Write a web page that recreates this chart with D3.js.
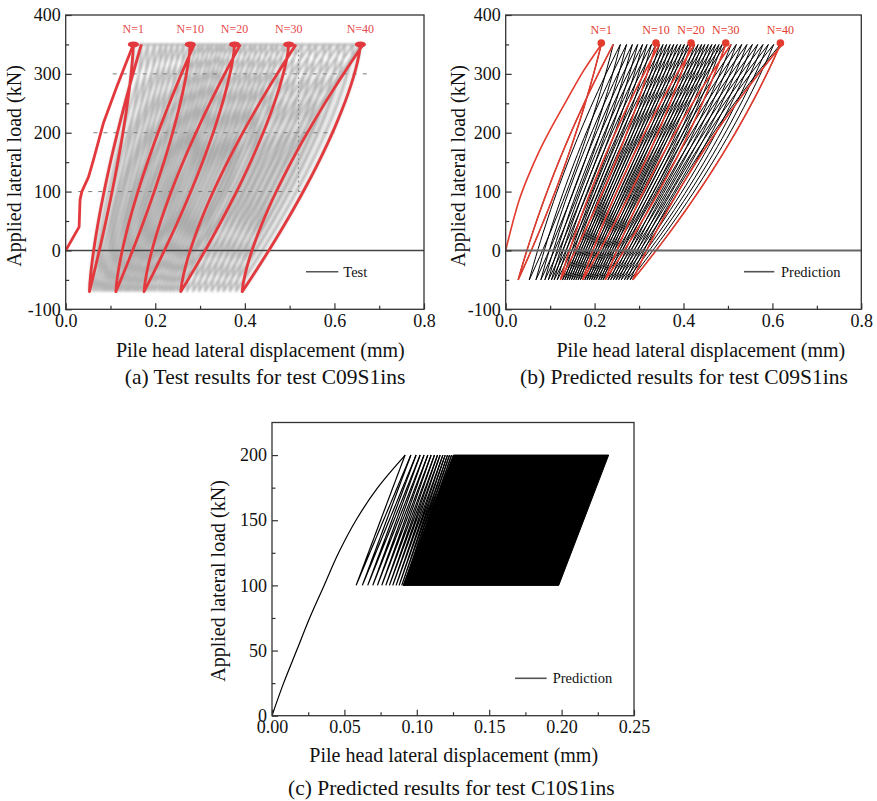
<!DOCTYPE html>
<html>
<head>
<meta charset="utf-8">
<script src="https://cdn.jsdelivr.net/npm/d3@7"></script>
<style>
  body { margin: 0; background: #fff; }
  svg { display: block; font-family: "Liberation Serif", "Times New Roman", serif; }
</style>
</head>
<body>
<svg id="fig" width="877" height="801"></svg>
<script>
// ---------------- data ----------------
// (a) measured load–displacement loops, test C09S1ins (load cycled between 350 and -70 kN)
const testLoadMax = 350, testLoadMin = -70;
const testInitial = [[0,0],[0.030,40],[0.032,86],[0.036,100],[0.051,125],[0.062,154],[0.084,216],[0.114,278],[0.151,350]];
const testPeaks = [0.151,0.169,0.184,0.199,0.213,0.225,0.238,0.251,0.264,0.278,0.287,0.298,0.307,0.318,0.327,0.338,0.347,0.356,0.367,0.377,
                   0.390,0.401,0.414,0.424,0.437,0.448,0.462,0.473,0.487,0.498,0.514,0.528,0.546,0.560,0.578,0.592,0.610,0.624,0.642,0.658,0.664];
const testValleys = [0.053,0.061,0.068,0.075,0.082,0.088,0.094,0.100,0.106,0.112,0.118,0.124,0.131,0.137,0.143,0.150,0.156,0.162,0.169,0.175,
                     0.183,0.191,0.199,0.208,0.216,0.224,0.232,0.240,0.249,0.257,0.270,0.284,0.297,0.311,0.325,0.339,0.352,0.366,0.380,0.394];
const testGridLoads = [100, 200, 300];
const testGridFrom = [0.028, 0.062, 0.105];
const testGridTo = [0.524, 0.600, 0.680];
const testGuideX = 0.52;
const testGuideLoads = [100, 340];

// (b) predicted loops, test C09S1ins (load cycled between 350 and -50 kN)
const predLoadMax = 350, predLoadMin = -50;
const predInitial = [[0,0],[0.015,45],[0.030,85],[0.050,125],[0.075,168],[0.100,205],[0.137,255],[0.175,305],[0.215,350]];
const predPeaks = [0.215,0.242,0.258,0.272,0.285,0.297,0.308,0.318,0.328,0.338,0.346,0.354,0.362,0.370,0.378,0.386,0.394,0.402,0.410,0.417,
                   0.425,0.433,0.441,0.448,0.456,0.464,0.472,0.480,0.487,0.495,0.507,0.519,0.531,0.543,0.555,0.567,0.579,0.591,0.603,0.618,0.622];
const predValleys = [0.028,0.053,0.068,0.079,0.088,0.096,0.103,0.109,0.116,0.123,0.128,0.133,0.138,0.143,0.148,0.153,0.158,0.163,0.168,0.173,
                     0.178,0.183,0.188,0.193,0.198,0.203,0.209,0.214,0.219,0.224,0.230,0.236,0.242,0.248,0.254,0.260,0.267,0.273,0.280,0.286];

// highlighted cycles in (a) and (b)
const markedCycles = [1, 10, 20, 30, 40];

// (c) predicted loops, test C10S1ins (load cycled between 200 and 100 kN)
const c10LoadMax = 200, c10LoadMin = 100;
const c10Initial = [[0,0],[0.008,25],[0.017,50],[0.026,75],[0.036,100],[0.046,125],[0.058,150],[0.073,175],[0.092,200]];
const c10Peaks = [0.0919,0.0959,0.0995,0.1023,0.1050,0.1076,0.1099,0.1122,0.1143,0.1161,0.1180,0.1196,0.1212,0.1226,0.1240,0.1253];
const c10Valleys = [0.0581,0.0624,0.0661,0.0696,0.0728,0.0758,0.0786,0.0811,0.0834,0.0857,0.0878,0.0896,0.0910,0.0923,0.0936];
// region covered by the hundreds of later, overlapping cycles
const c10DenseBand = [[0.0905,100],[0.1253,200],[0.2325,200],[0.198,100]];

// axis ticks
const abXMajor = [0, 0.2, 0.4, 0.6, 0.8], abXMinor = [0.1, 0.3, 0.5, 0.7];
const abYMajor = [-100, 0, 100, 200, 300, 400], abYMinor = [-50, 50, 150, 250, 350];
const cXMajor = [0, 0.05, 0.10, 0.15, 0.20, 0.25], cXMinor = [0.025, 0.075, 0.125, 0.175, 0.225];
const cYMajor = [0, 50, 100, 150, 200], cYMinor = [25, 75, 125, 175];

// text
const xTitle = "Pile head lateral displacement (mm)";
const yTitle = "Applied lateral load (kN)";
const captions = ["(a) Test results for test C09S1ins", "(b) Predicted results for test C09S1ins", "(c) Predicted results for test C10S1ins"];
const legendNames = ["Test", "Prediction", "Prediction"];

// ---------------- drawing ----------------
const svg = d3.select("#fig");
const defs = svg.append("defs");
defs.append("filter").attr("id", "soft").attr("x", "-5%").attr("y", "-5%").attr("width", "110%").attr("height", "110%")
  .append("feGaussianBlur").attr("stdDeviation", 0.55);
defs.append("filter").attr("id", "softer").attr("x", "-5%").attr("y", "-5%").attr("width", "110%").attr("height", "110%")
  .append("feGaussianBlur").attr("stdDeviation", 0.9);

const xa = d3.scaleLinear().domain([0, 0.8]).range([65.7, 424]);
const ya = d3.scaleLinear().domain([-100, 400]).range([309.3, 15]);
const xb = d3.scaleLinear().domain([0, 0.8]).range([505.7, 861.3]);
const yb = ya.copy();
const xc = d3.scaleLinear().domain([0, 0.25]).range([272, 634]);
const yc = d3.scaleLinear().domain([0, 225]).range([715.7, 422.5]);

// one branch of a loop between two turning points; shape(u) sets how the
// displacement follows the load along the branch
function branch(d0, p0, d1, p1, shape, n = 30) {
  return d3.range(n + 1).map(i => {
    const u = i / n;
    return [d0 + (d1 - d0) * shape(u), p0 + (p1 - p0) * u];
  });
}
// cycle k: unload from peak k to valley k, then reload to peak k+1
function cycle(peaks, valleys, k, pMax, pMin, shape) {
  return branch(peaks[k], pMax, valleys[k], pMin, shape)
    .concat(branch(valleys[k], pMin, peaks[k + 1], pMax, shape).slice(1));
}

function axes(x, y, xMaj, xMin, yMaj, yMin, xFmt) {
  const [x0, x1] = x.range(), [y0, y1] = y.range();
  const g = svg.append("g");
  const style = sel => {
    sel.attr("font-family", null).attr("font-size", null);
    sel.select(".domain").remove();
    sel.selectAll(".tick line").attr("stroke", "#333").attr("stroke-width", 1.2);
    sel.selectAll(".tick text").attr("fill", "#111").style("font-size", "18px");
  };
  g.append("g").attr("transform", `translate(0,${y0})`)
    .call(d3.axisBottom(x).tickValues(xMaj).tickFormat(xFmt).tickSize(-6).tickPadding(5)).call(style);
  g.append("g").attr("transform", `translate(0,${y0})`)
    .call(d3.axisBottom(x).tickValues(xMin).tickFormat("").tickSize(-3.5)).call(style);
  g.append("g").attr("transform", `translate(${x0},0)`)
    .call(d3.axisLeft(y).tickValues(yMaj).tickFormat(d => String(d)).tickSize(-6).tickPadding(5)).call(style);
  g.append("g").attr("transform", `translate(${x0},0)`)
    .call(d3.axisLeft(y).tickValues(yMin).tickFormat("").tickSize(-3.5)).call(style);
  g.append("rect").attr("x", x0).attr("y", y1).attr("width", x1 - x0).attr("height", y0 - y1)
    .attr("fill", "none").attr("stroke", "#333").attr("stroke-width", 1.3);
}

function titles(cxX, xBase, yCenter, yBase) {
  svg.append("text").attr("x", cxX).attr("y", xBase).attr("text-anchor", "middle")
    .style("font-size", "20px").attr("fill", "#111").text(xTitle);
  svg.append("text").attr("transform", `translate(${yBase},${yCenter}) rotate(-90)`).attr("text-anchor", "middle")
    .style("font-size", "20px").attr("fill", "#111").text(yTitle);
}
function caption(i, cx, base) {
  svg.append("text").attr("x", cx).attr("y", base).attr("text-anchor", "middle")
    .style("font-size", "21.5px").attr("fill", "#111").text(captions[i]);
}
function legend(i, lx0, lx1, ly, tx) {
  svg.append("line").attr("x1", lx0).attr("x2", lx1).attr("y1", ly).attr("y2", ly)
    .attr("stroke", "#555").attr("stroke-width", 1.6);
  svg.append("text").attr("x", tx).attr("y", ly + 5).style("font-size", "14.5px").attr("fill", "#111").text(legendNames[i]);
}
function clip(id, x, y) {
  defs.append("clipPath").attr("id", id).append("rect")
    .attr("x", x.range()[0]).attr("y", y.range()[1])
    .attr("width", x.range()[1] - x.range()[0]).attr("height", y.range()[0] - y.range()[1]);
}

// ---------- panel (a) ----------
{
  clip("clipA", xa, ya);
  const line = d3.line().x(d => xa(d[0])).y(d => ya(d[1]));
  const shape = u => Math.pow(u, 1.4);
  const g = svg.append("g").attr("clip-path", "url(#clipA)");
  const haze = g.append("g").attr("filter", "url(#softer)");
  const cycles = d3.range(testValleys.length);
  haze.append("g").selectAll("path").data(cycles).join("path")
    .attr("d", k => line(cycle(testPeaks, testValleys, k, testLoadMax, testLoadMin, shape)) + "Z")
    .attr("fill", "rgba(100,100,100,0.08)")
    .attr("stroke", "#b4b4b4").attr("stroke-width", 2);
  const soft = g.append("g").attr("filter", "url(#soft)");
  // grid of the original test plot
  soft.append("g").selectAll("line").data(testGridLoads).join("line")
    .attr("x1", (d, i) => xa(testGridFrom[i])).attr("x2", (d, i) => xa(testGridTo[i]))
    .attr("y1", d => ya(d)).attr("y2", d => ya(d))
    .attr("stroke", "#7a7a7a").attr("stroke-width", 1).attr("stroke-dasharray", "4,6");
  soft.append("line").attr("x1", xa(testGuideX)).attr("x2", xa(testGuideX))
    .attr("y1", ya(testGuideLoads[1])).attr("y2", ya(testGuideLoads[0]))
    .attr("stroke", "#7a7a7a").attr("stroke-width", 1).attr("stroke-dasharray", "1.5,3");
  // zero-load line
  g.append("line").attr("x1", xa(0)).attr("x2", xa(0.8)).attr("y1", ya(0)).attr("y2", ya(0))
    .attr("stroke", "#444").attr("stroke-width", 1.4);
  const red = g.append("g").attr("filter", "url(#soft)");
  red.append("path").attr("d", line(testInitial)).attr("fill", "none")
    .attr("stroke", "#e3393c").attr("stroke-width", 2.8).attr("stroke-linejoin", "round");
  red.selectAll("path.cyc").data(markedCycles).join("path").attr("class", "cyc")
    .attr("d", n => line(cycle(testPeaks, testValleys, n - 1, testLoadMax, testLoadMin, shape)))
    .attr("fill", "none").attr("stroke", "#e3393c").attr("stroke-width", 2.8).attr("stroke-linejoin", "round");
  red.selectAll("ellipse").data(markedCycles).join("ellipse")
    .attr("cx", n => xa(testPeaks[n - 1])).attr("cy", ya(testLoadMax))
    .attr("rx", 5.5).attr("ry", 3).attr("fill", "#e3393c");
  svg.append("g").selectAll("text").data(markedCycles).join("text")
    .attr("x", n => xa(testPeaks[n - 1])).attr("y", 33).attr("text-anchor", "middle")
    .style("font-size", "12px").attr("fill", "#e5484b").text(n => `N=${n}`);
  axes(xa, ya, abXMajor, abXMinor, abYMajor, abYMinor, d3.format(".1f"));
  titles(260.3, 357, 166, 20.5);
  caption(0, 265, 384);
  legend(0, 306, 338.3, 271.7, 343.3);
}

// ---------- panel (b) ----------
{
  clip("clipB", xb, yb);
  const line = d3.line().x(d => xb(d[0])).y(d => yb(d[1]));
  const smooth = d3.line().x(d => xb(d[0])).y(d => yb(d[1])).curve(d3.curveCatmullRom);
  const shape = u => 0.7 * u + 0.3 * u * u;
  const g = svg.append("g").attr("clip-path", "url(#clipB)");
  g.append("g").selectAll("path").data(d3.range(predValleys.length)).join("path")
    .attr("d", k => line(cycle(predPeaks, predValleys, k, predLoadMax, predLoadMin, shape)))
    .attr("fill", "none").attr("stroke", "#000").attr("stroke-width", 1);
  g.append("path").attr("d", smooth(predInitial)).attr("fill", "none")
    .attr("stroke", "#e33b2e").attr("stroke-width", 1.6);
  g.append("g").selectAll("path").data(markedCycles).join("path")
    .attr("d", n => line(cycle(predPeaks, predValleys, n - 1, predLoadMax, predLoadMin, shape)))
    .attr("fill", "none").attr("stroke", "#e33b2e").attr("stroke-width", 1.6);
  g.append("line").attr("x1", xb(0)).attr("x2", xb(0.8)).attr("y1", yb(0)).attr("y2", yb(0))
    .attr("stroke", "#666").attr("stroke-width", 2);
  svg.append("g").selectAll("circle").data(markedCycles).join("circle")
    .attr("cx", n => xb(predPeaks[n - 1])).attr("cy", yb(predLoadMax) - 1.5).attr("r", 3.8).attr("fill", "#e33b2e");
  svg.append("g").selectAll("text").data(markedCycles).join("text")
    .attr("x", n => xb(predPeaks[n - 1])).attr("y", 33.5).attr("text-anchor", "middle")
    .style("font-size", "12px").attr("fill", "#e33b2e").text(n => `N=${n}`);
  axes(xb, yb, abXMajor, abXMinor, abYMajor, abYMinor, d3.format(".1f"));
  titles(700.8, 357, 166, 465);
  caption(1, 684, 384);
  legend(1, 744, 774.3, 271.7, 781);
}

// ---------- panel (c) ----------
{
  clip("clipC", xc, yc);
  const line = d3.line().x(d => xc(d[0])).y(d => yc(d[1]));
  const smooth = d3.line().x(d => xc(d[0])).y(d => yc(d[1])).curve(d3.curveCatmullRom);
  const shape = u => u;
  const g = svg.append("g").attr("clip-path", "url(#clipC)");
  g.append("path").attr("d", line(c10DenseBand) + "Z").attr("fill", "#000").attr("stroke", "#000").attr("stroke-width", 1);
  g.append("path").attr("d", smooth(c10Initial))
    .attr("fill", "none").attr("stroke", "#000").attr("stroke-width", 1.2);
  g.append("g").selectAll("path").data(d3.range(c10Valleys.length)).join("path")
    .attr("d", k => line(cycle(c10Peaks, c10Valleys, k, c10LoadMax, c10LoadMin, shape)))
    .attr("fill", "none").attr("stroke", "#000").attr("stroke-width", 1.2);
  axes(xc, yc, cXMajor, cXMinor, cYMajor, cYMinor, d3.format(".2f"));
  titles(453.7, 762, 581, 225);
  caption(2, 451.3, 794.5);
  legend(2, 515, 546.7, 678.3, 552.7);
}
</script>
</body>
</html>
